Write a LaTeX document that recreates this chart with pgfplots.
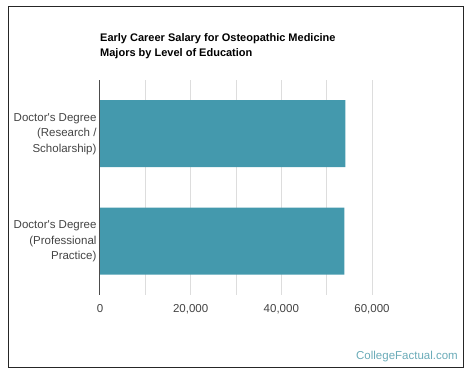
\documentclass[border=0pt]{standalone}
\usepackage{pgfplots}
\pgfplotsset{compat=1.18}
\usepackage{fontspec}
\setmainfont{Liberation Sans}
\definecolor{barc}{HTML}{4499AD}
\definecolor{wm}{HTML}{6AABB8}
\definecolor{gridc}{HTML}{DDDDDD}
\definecolor{lab}{HTML}{444444}
\begin{document}
\begin{tikzpicture}[x=1pt,y=1pt]
\useasboundingbox (0pt,0pt) rectangle (474pt,379pt);
\draw[black!85, line width=1pt] (8pt,11pt) rectangle (463pt,372pt);
\node[anchor=north west, align=left, font=\bfseries\fontsize{11}{15.5}\selectfont, inner sep=0pt] at (100pt,346pt) {Early Career Salary for Osteopathic Medicine\\Majors by Level of Education};
\begin{axis}[
  at={(100pt,84pt)}, anchor=south west,
  scale only axis, width=272pt, height=215pt,
  xmin=0, xmax=60000, ymin=-0.5, ymax=1.5,
  axis x line*=bottom, axis y line*=left,
  x axis line style={draw=none}, y axis line style={draw=none},
  tick style={draw=none},
  scaled x ticks=false,
  xtick={0,20000,40000,60000},
  xticklabels={0,{20,000},{40,000},{60,000}},
  ytick={0,1},
  yticklabels={{Doctor\textquotesingle s Degree\\(Professional\\Practice)},{Doctor\textquotesingle s Degree\\(Research /\\Scholarship)}},
  yticklabel style={align=right, font=\fontsize{11.5}{15.5}\selectfont, text=lab},
  xticklabel style={font=\fontsize{11.5}{14}\selectfont, text=lab, yshift=-6pt},
  clip=false,
]
\draw[gridc, line width=0.8pt] (axis cs:10000,-0.5) -- (axis cs:10000,1.5);
\draw[gridc, line width=0.8pt] (axis cs:20000,-0.5) -- (axis cs:20000,1.5);
\draw[gridc, line width=0.8pt] (axis cs:30000,-0.5) -- (axis cs:30000,1.5);
\draw[gridc, line width=0.8pt] (axis cs:40000,-0.5) -- (axis cs:40000,1.5);
\draw[gridc, line width=0.8pt] (axis cs:50000,-0.5) -- (axis cs:50000,1.5);
\draw[gridc, line width=0.8pt] (axis cs:60000,-0.5) -- (axis cs:60000,1.5);
\addplot[xbar, bar width=67pt, fill=barc, draw=none] coordinates {(53900,0) (54150,1)};
\draw[black!70, line width=1pt] (axis cs:0,-0.5) -- (axis cs:0,1.5);
\end{axis}
\node[anchor=east, text=wm, font=\fontsize{11.5}{14}\selectfont, inner sep=0pt] at (458pt,22pt) {CollegeFactual.com};
\end{tikzpicture}
\end{document}
